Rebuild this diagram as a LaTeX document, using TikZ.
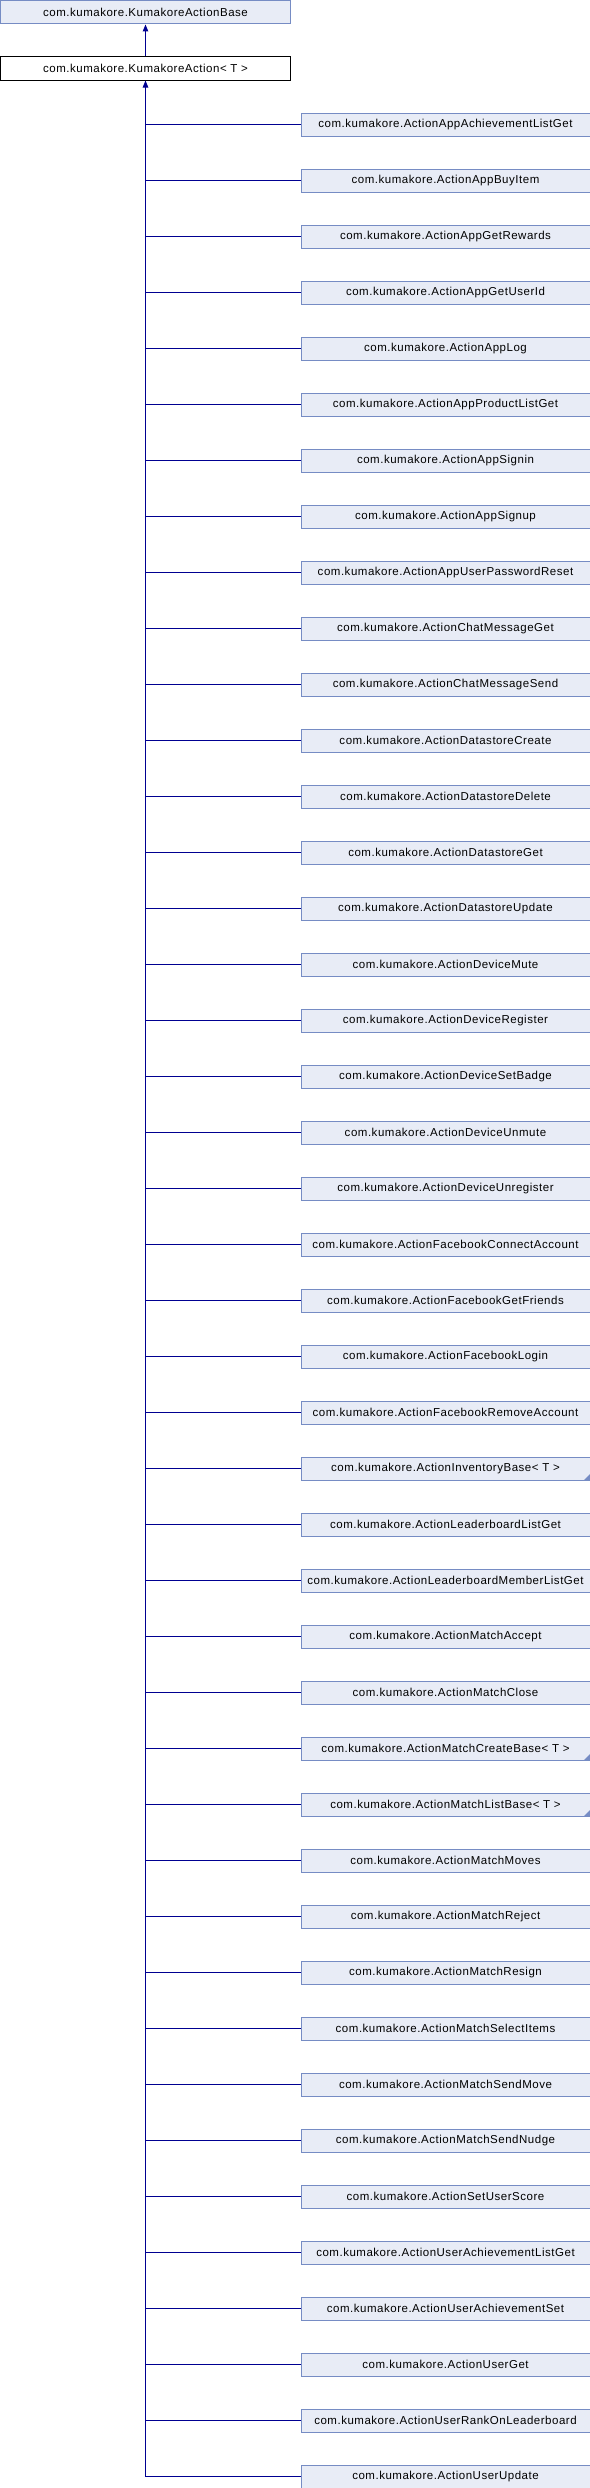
\documentclass[tikz,border=0pt]{standalone}
\usepackage{fontspec}
\setmainfont{Liberation Sans}[LetterSpace=4.5]
\usetikzlibrary{arrows.meta}
\definecolor{boxfill}{RGB}{232,236,246}
\definecolor{boxdraw}{RGB}{118,140,196}
\definecolor{edgecol}{RGB}{0,0,145}
\begin{document}
\begin{tikzpicture}[x=1bp,y=-1bp,
  cls/.style={draw=boxdraw, fill=boxfill, line width=1bp, minimum width=289bp, minimum height=23bp,
    inner sep=0pt, anchor=north west, font=\fontsize{11.5bp}{13bp}\selectfont},
  curcls/.style={cls, draw=black, fill=white},
  edgeline/.style={draw=edgecol, line width=1bp},
  tip/.style={-{Triangle[length=7bp,width=5.5bp]}}]
\useasboundingbox (0,0) rectangle (590,2488);
\node[cls] (a) at (0.5,0.5) {com.kumakore.KumakoreActionBase};
\node[curcls] (b) at (0.5,56.5) {com.kumakore.KumakoreAction< T >};
\foreach \nm [count=\i] in {ActionAppAchievementListGet,ActionAppBuyItem,ActionAppGetRewards,ActionAppGetUserId,ActionAppLog,ActionAppProductListGet,ActionAppSignin,ActionAppSignup,ActionAppUserPasswordReset,ActionChatMessageGet,ActionChatMessageSend,ActionDatastoreCreate,ActionDatastoreDelete,ActionDatastoreGet,ActionDatastoreUpdate,ActionDeviceMute,ActionDeviceRegister,ActionDeviceSetBadge,ActionDeviceUnmute,ActionDeviceUnregister,ActionFacebookConnectAccount,ActionFacebookGetFriends,ActionFacebookLogin,ActionFacebookRemoveAccount,{ActionInventoryBase< T >},ActionLeaderboardListGet,ActionLeaderboardMemberListGet,ActionMatchAccept,ActionMatchClose,{ActionMatchCreateBase< T >},{ActionMatchListBase< T >},ActionMatchMoves,ActionMatchReject,ActionMatchResign,ActionMatchSelectItems,ActionMatchSendMove,ActionMatchSendNudge,ActionSetUserScore,ActionUserAchievementListGet,ActionUserAchievementSet,ActionUserGet,ActionUserRankOnLeaderboard,ActionUserUpdate}
{
  \node[cls] (c\i) at (300.5,{112.5+56*(\i-1)}) {com.kumakore.\nm};
}
\foreach \i in {25,30,31} {
  \fill[boxdraw] ([xshift=-0.5bp,yshift=0.5bp]c\i.south east) -- ++(-6,0) -- ++(6,-6) -- cycle;
}
\draw[edgeline,tip] (b.north) -- (a.south);
\draw[edgeline,tip] (c43.west) -| (b.south);
\foreach \i in {1,...,42} {
  \draw[edgeline] (c\i.west) -- (c\i.west -| b.south);
}
\end{tikzpicture}
\end{document}
